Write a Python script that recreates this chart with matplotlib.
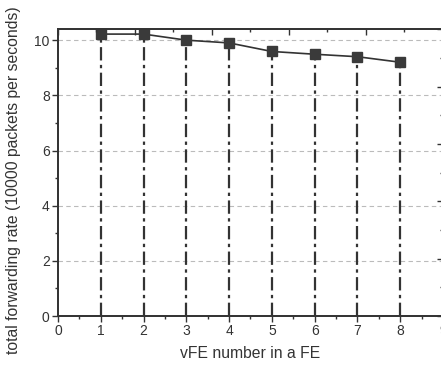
import matplotlib
matplotlib.use("Agg")
import matplotlib.pyplot as plt
from matplotlib.ticker import MultipleLocator

# vFE count vs total forwarding rate (x10000 packets/s)
vfe_number = [1, 2, 3, 4, 5, 6, 7, 8]
forward_rate = [10.22, 10.22, 10.0, 9.9, 9.59, 9.49, 9.4, 9.2]

plt.rcParams['font.family'] = ['Liberation Sans', 'DejaVu Sans']
ink = '#333333'

fig = plt.figure(figsize=(4.41, 3.65), dpi=100)
ax = fig.add_axes([0.1315, 0.1342, 0.873, 0.786])

# light dashed horizontal grid
for y in [2, 4, 6, 8, 10]:
    ax.axhline(y, color='#bbbbbb', lw=0.8, ls=(0, (4, 3)), zorder=0)

# drop lines from each point to the x axis
ax.vlines(vfe_number, 0, forward_rate, colors=ink, linestyles=(0, (6, 2, 1.5, 2)),
          lw=1.6, zorder=1)
ax.plot(vfe_number, forward_rate, color=ink, lw=1.2, marker='s', ms=6.5,
        mfc='#3a3a3a', mec='#3a3a3a', zorder=3)

ax.set_xlim(0, 9)
ax.set_ylim(0, 10.4)
ax.xaxis.set_major_locator(MultipleLocator(1))
ax.xaxis.set_minor_locator(MultipleLocator(0.5))
ax.yaxis.set_major_locator(MultipleLocator(2))
ax.yaxis.set_minor_locator(MultipleLocator(1))
ax.tick_params(which='major', direction='out', length=4, width=1, colors=ink,
               labelsize=10, pad=2)
ax.tick_params(which='minor', direction='out', length=2.5, width=1, colors=ink)
for s in ax.spines.values():
    s.set_color(ink)
    s.set_linewidth(1.1)

ax.set_xlabel('vFE number in a FE', fontsize=11.3, color=ink)
ax.set_ylabel('total forwarding rate (10000 packets per seconds)', fontsize=11.3,
              color=ink)
ax.xaxis.set_label_coords(0.5, -0.105)
ax.yaxis.set_label_coords(-0.096, 0.474)

# opposite axes run on their own 0..10 scales, ticks only
top = ax.twiny()
top.set_xlim(0, 10)
top.xaxis.set_major_locator(MultipleLocator(2))
top.xaxis.set_minor_locator(MultipleLocator(1))
top.tick_params(axis='x', which='both', direction='in', labeltop=False, colors=ink, width=1)
top.tick_params(axis='x', which='major', length=4)
top.tick_params(axis='x', which='minor', length=2.5)

right = ax.twinx()
right.set_ylim(0, 10)
right.yaxis.set_major_locator(MultipleLocator(2))
right.yaxis.set_minor_locator(MultipleLocator(1))
right.tick_params(axis='y', which='both', direction='in', labelright=False, colors=ink, width=1)
right.tick_params(axis='y', which='major', length=4)
right.tick_params(axis='y', which='minor', length=2.5)
for a in (top, right):
    for s in a.spines.values():
        s.set_color(ink)
        s.set_linewidth(1.1)

fig.savefig('out.png', dpi=100)
